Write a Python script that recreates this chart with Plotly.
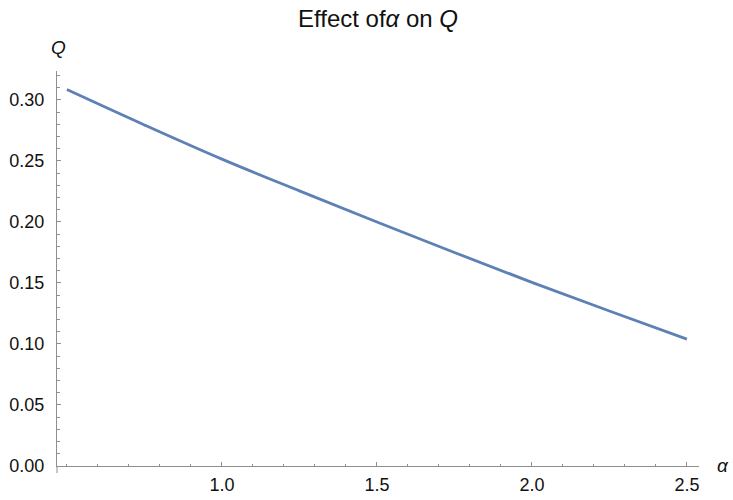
import plotly.graph_objects as go

alpha = [0.5, 0.75, 1.0, 1.25, 1.5, 1.75, 2.0, 2.25, 2.5]
Q = [0.3085, 0.2795, 0.2515, 0.2255, 0.2000, 0.1750, 0.1505, 0.1270, 0.1040]

x_tickvals = [1.0, 1.5, 2.0, 2.5]
x_ticktext = ["1.0", "1.5", "2.0", "2.5"]
y_tickvals = [0.00, 0.05, 0.10, 0.15, 0.20, 0.25, 0.30]
y_ticktext = ["0.00", "0.05", "0.10", "0.15", "0.20", "0.25", "0.30"]

FONT = "Liberation Sans, Arial, sans-serif"
AXC = "#8f8f8f"
TXT = "#111111"

fig = go.Figure()
fig.add_trace(go.Scatter(x=alpha, y=Q, mode="lines",
                         line=dict(color="#5E81B5", width=2.8),
                         line_shape="spline", showlegend=False, hoverinfo="skip"))

XR = [0.468, 2.539]
YR = [0.0, 0.3237]
PLOT_H = 500 - 71 - 34

fig.update_layout(
    width=733, height=500,
    margin=dict(l=57, r=34, t=71, b=34, autoexpand=False),
    paper_bgcolor="white", plot_bgcolor="white",
    font=dict(family=FONT, size=18, color=TXT),
    title=dict(text="Effect of<i>α</i> on <i>Q</i>", x=0.5, xref="paper",
               y=1 - 19 / 500, yref="container", yanchor="middle", xanchor="center",
               font=dict(family=FONT, size=24, color=TXT)),
    xaxis=dict(range=XR, showgrid=False, zeroline=False, showline=True, automargin=False,
               linecolor=AXC, linewidth=1, ticks="inside", ticklen=4,
               tickcolor=AXC, tickwidth=1, tickvals=x_tickvals, ticktext=x_ticktext,
               minor=dict(tick0=0, dtick=0.1, ticks="inside", ticklen=2.5,
                          tickcolor=AXC, tickwidth=1),
               ticklabelstandoff=2,
               tickfont=dict(family=FONT, size=18, color=TXT)),
    yaxis=dict(range=YR, showgrid=False, zeroline=False, showline=True, automargin=False,
               linecolor=AXC, linewidth=1, ticks="inside", ticklen=4,
               tickcolor=AXC, tickwidth=1, tickvals=y_tickvals, ticktext=y_ticktext,
               minor=dict(tick0=0, dtick=0.01, ticks="inside", ticklen=2.5,
                          tickcolor=AXC, tickwidth=1),
               ticklabelstandoff=8,
               tickfont=dict(family=FONT, size=18, color=TXT)),
    shapes=[
        dict(type="line", xref="paper", yref="paper", x0=0, x1=0,
             y0=-7 / PLOT_H, y1=0, line=dict(color=AXC, width=1)),
    ],
    annotations=[
        dict(text="<i>Q</i>", xref="paper", yref="paper", x=0, y=1,
             xanchor="center", yanchor="middle", xshift=1, yshift=24,
             showarrow=False, font=dict(family=FONT, size=19, color=TXT)),
        dict(text="<i>α</i>", xref="paper", yref="paper", x=1, y=0,
             xanchor="center", yanchor="middle", xshift=24, yshift=1,
             showarrow=False, font=dict(family=FONT, size=19, color=TXT)),
    ],
)

fig.write_html("out.html", config={"displayModeBar": False},
               post_script="document.body.style.margin='0';")
